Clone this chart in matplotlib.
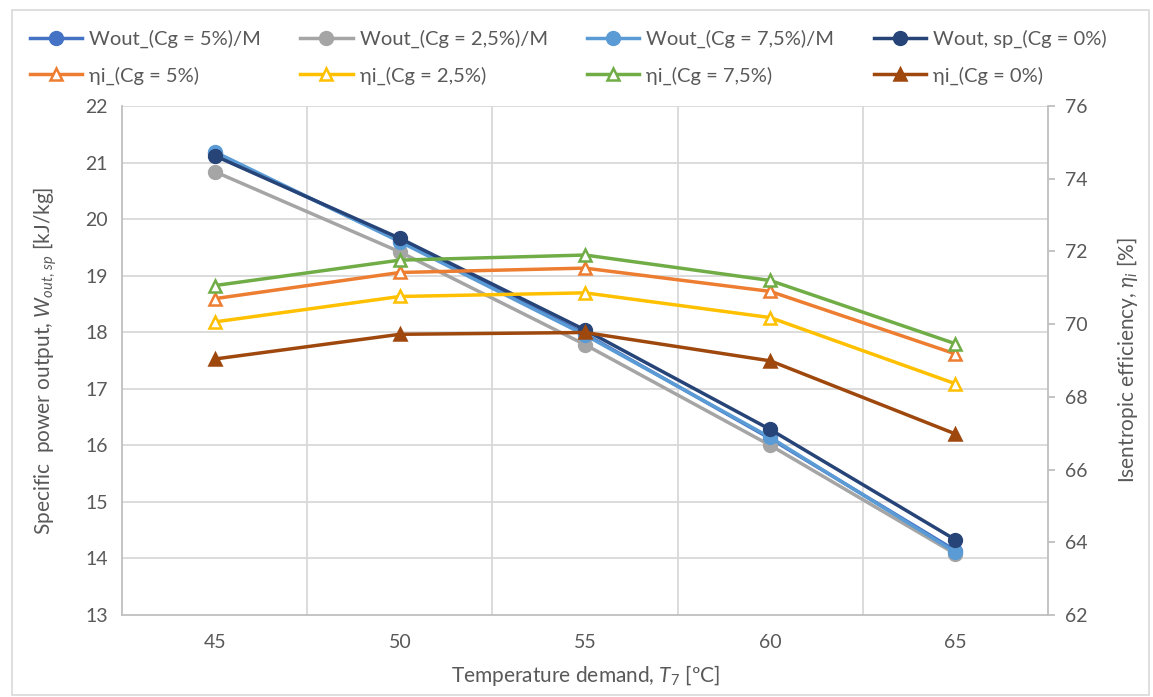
import matplotlib
matplotlib.use("Agg")
import matplotlib.pyplot as plt
from matplotlib.patches import Rectangle

plt.rcParams['font.family'] = ['Lato', 'DejaVu Sans']
plt.rcParams['mathtext.fontset'] = 'custom'
plt.rcParams['mathtext.rm'] = 'Lato'
plt.rcParams['mathtext.it'] = 'Lato:italic'

# Data
temps = ["45", "50", "55", "60", "65"]
w_cg5 = [21.16, 19.62, 17.97, 16.12, 14.14]
w_cg25 = [20.84, 19.42, 17.78, 16.00, 14.08]
w_cg75 = [21.19, 19.60, 17.95, 16.14, 14.11]
w_cg0 = [21.12, 19.66, 18.04, 16.28, 14.33]
eta_cg5 = [70.70, 71.42, 71.54, 70.90, 69.18]
eta_cg25 = [70.06, 70.76, 70.86, 70.18, 68.36]
eta_cg75 = [71.06, 71.76, 71.90, 71.20, 69.46]
eta_cg0 = [69.04, 69.72, 69.77, 68.99, 66.98]

labels_w = ["Wout_(Cg = 5%)/M", "Wout_(Cg = 2,5%)/M", "Wout_(Cg = 7,5%)/M", "Wout, sp_(Cg = 0%)"]
labels_eta = ["ηi_(Cg = 5%)", "ηi_(Cg = 2,5%)", "ηi_(Cg = 7,5%)", "ηi_(Cg = 0%)"]
colors_w = ["#4472C4", "#A5A5A5", "#5B9BD5", "#264478"]
colors_eta = ["#ED7D31", "#FFC000", "#70AD47", "#9E480E"]

text_color = "#595959"
grid_color = "#D9D9D9"

fig = plt.figure(figsize=(11.53, 6.97), dpi=100)
ax = fig.add_axes([0.1058, 0.1176, 0.8032, 0.7304])
ax2 = ax.twinx()

x = list(range(len(temps)))
w_series = [w_cg5, w_cg25, w_cg75, w_cg0]
eta_series = [eta_cg5, eta_cg25, eta_cg75, eta_cg0]

handles_w = []
for vals, c, lab in zip(w_series, colors_w, labels_w):
    h, = ax.plot(x, vals, color=c, lw=2.5, marker='o', ms=10, label=lab, zorder=3)
    handles_w.append(h)

handles_eta = []
for i, (vals, c, lab) in enumerate(zip(eta_series, colors_eta, labels_eta)):
    filled = (i == 3)
    h, = ax2.plot(x, vals, color=c, lw=2.5, marker='^', ms=9,
                  markerfacecolor=c if filled else 'white',
                  markeredgecolor=c, markeredgewidth=1.8, label=lab, zorder=3)
    handles_eta.append(h)

# Axes ranges and ticks
ax.set_xlim(-0.5, len(temps) - 0.5)
ax.set_ylim(13, 22)
ax.set_yticks(range(13, 23))
ax2.set_ylim(62, 76)
ax2.set_yticks(range(62, 77, 2))
ax.set_xticks(x)
ax.set_xticklabels(temps)

# Grid: horizontal at left ticks, vertical between categories
for yv in range(14, 23):
    ax.axhline(yv, color=grid_color, lw=1.3, zorder=0)
for xv in [0.5, 1.5, 2.5, 3.5]:
    ax.axvline(xv, color=grid_color, lw=1.3, zorder=0)

for a in (ax, ax2):
    for s in a.spines.values():
        s.set_visible(False)
for a, side in ((ax, 'left'), (ax, 'bottom'), (ax2, 'right')):
    a.spines[side].set_visible(True)
    a.spines[side].set_color("#BFBFBF")
    a.spines[side].set_linewidth(1.3)

ax.tick_params(axis='y', length=0, labelsize=14, labelcolor=text_color, pad=10)
ax.tick_params(axis='x', length=0, labelsize=14, labelcolor=text_color, pad=14)
ax2.tick_params(axis='y', length=5, color="#BFBFBF", width=1.3, labelsize=14,
                labelcolor=text_color, pad=7)

ax.set_ylabel(r"Specific  power output, $W_{out,\,sp}$ [kJ/kg]", fontsize=15,
              color=text_color, labelpad=19)
ax2.set_ylabel(r"Isentropic efficiency, $\eta_i$ [%]", fontsize=15,
               color=text_color, labelpad=20)
ax.set_xlabel(r"Temperature demand, $T_7$ [ºC]", fontsize=15, color=text_color, labelpad=8)

ax.set_zorder(ax2.get_zorder() - 1)
ax.patch.set_visible(False)
ax2.patch.set_visible(False)

# Legend: Wout entries on the first row, efficiencies on the second
order = []
for hw, he in zip(handles_w, handles_eta):
    order += [hw, he]
leg = fig.legend(handles=order, labels=[h.get_label() for h in order], ncol=4,
                 loc='upper left', bbox_to_anchor=(0.010, 0.983), frameon=False,
                 fontsize=14.5, handlelength=2.6, columnspacing=1.95,
                 labelspacing=0.9, handletextpad=0.35)
for t in leg.get_texts():
    t.set_color(text_color)

fig.patches.append(Rectangle((0.0105, 0.003), 0.986, 0.982, transform=fig.transFigure,
                             fill=False, edgecolor="#D9D9D9", lw=1.2))

fig.savefig("out.png", dpi=100)
